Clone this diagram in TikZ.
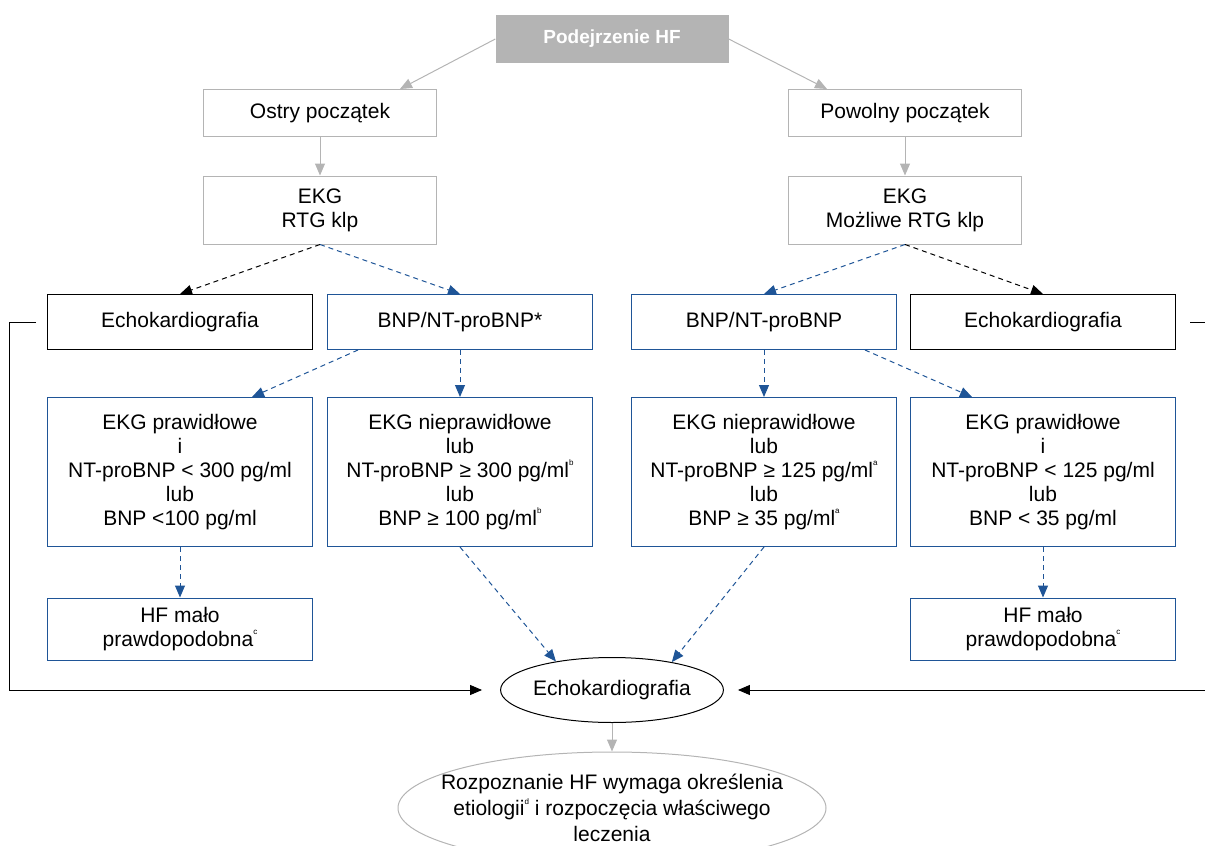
\documentclass[tikz,border=0pt]{standalone}
\usepackage{fontspec}
\setmainfont{Liberation Sans}
\usetikzlibrary{arrows.meta,shapes.geometric}
\definecolor{hfblue}{HTML}{1F5597}
\definecolor{hfgray}{HTML}{B4B4B4}
\newcommand{\fnmark}[1]{\raisebox{0.55em}{\fontsize{8}{8}\selectfont #1}}
\begin{document}
\begin{tikzpicture}[x=1pt,y=-1pt,font=\fontsize{21}{24}\selectfont,
  box/.style={draw,line width=1pt,align=center,inner sep=0pt,minimum width=265pt,minimum height=55pt},
  greybox/.style={box,draw=hfgray,minimum width=233pt,minimum height=47pt},
  bluebox/.style={box,draw=hfblue},
  blackbox/.style={box,draw=black},
  tip/.style={-{Triangle[length=12pt,width=10pt]}},
  garrow/.style={tip,hfgray,line width=1pt},
  barrow/.style={tip,hfblue,line width=1pt,dash pattern=on 5pt off 4pt},
  karrow/.style={tip,black,line width=1pt,dash pattern=on 5pt off 4pt},
  link/.style={black,line width=1pt}]
\useasboundingbox (0,0) rectangle (1205,846);
\node[fill=hfgray,minimum width=233pt,minimum height=48pt,inner sep=0pt,text=white,font=\bfseries\fontsize{19}{21}\selectfont] (susp) at (612,39) {Podejrzenie HF};
\node[greybox] (acute) at (320,113) {Ostry początek};
\node[greybox] (slow) at (905,113) {Powolny początek};
\node[greybox,minimum height=68pt] (ekgA) at (320,210) {EKG\\RTG klp};
\node[greybox,minimum height=68pt] (ekgS) at (905,210) {EKG\\Możliwe RTG klp};
\node[blackbox] (echoL) at (180,322) {Echokardiografia};
\node[bluebox] (bnpL) at (460,322) {BNP/NT-proBNP*};
\node[bluebox] (bnpR) at (764,322) {BNP/NT-proBNP};
\node[blackbox] (echoR) at (1043,322) {Echokardiografia};
\node[bluebox,minimum height=149pt] (normL) at (180,472) {EKG prawidłowe\\i\\NT-proBNP < 300 pg/ml\\lub\\BNP <100 pg/ml};
\node[bluebox,minimum height=149pt] (abnL) at (460,472) {EKG nieprawidłowe\\lub\\NT-proBNP ≥ 300 pg/ml\fnmark{b}\\lub\\BNP ≥ 100 pg/ml\fnmark{b}};
\node[bluebox,minimum height=149pt] (abnR) at (764,472) {EKG nieprawidłowe\\lub\\NT-proBNP ≥ 125 pg/ml\fnmark{a}\\lub\\BNP ≥ 35 pg/ml\fnmark{a}};
\node[bluebox,minimum height=149pt] (normR) at (1043,472) {EKG prawidłowe\\i\\NT-proBNP < 125 pg/ml\\lub\\BNP < 35 pg/ml};
\node[bluebox,minimum height=62pt] (unlL) at (180,629) {HF mało\\prawdopodobna\fnmark{c}};
\node[bluebox,minimum height=62pt] (unlR) at (1043,629) {HF mało\\prawdopodobna\fnmark{c}};
\node[ellipse,draw,line width=1pt,inner sep=0pt,minimum width=222pt,minimum height=65pt] (echoC) at (612,690) {Echokardiografia};
\node[ellipse,draw=hfgray,line width=1pt,inner xsep=-20pt,inner ysep=-6pt,minimum width=428pt,minimum height=112pt,align=center,font=\fontsize{21}{26}\selectfont] (diag) at (612,808) {Rozpoznanie HF wymaga określenia\\etiologii\fnmark{d} i rozpoczęcia właściwego\\leczenia};
\draw[garrow] (susp.west) -- ([xshift=-37pt]acute.north east);
\draw[garrow] (susp.east) -- ([xshift=39pt]slow.north west);
\draw[garrow] (acute) -- (ekgA);
\draw[garrow] (slow) -- (ekgS);
\draw[karrow] (ekgA.south) -- (echoL.north);
\draw[barrow] (ekgA.south) -- (bnpL.north);
\draw[barrow] (ekgS.south) -- (bnpR.north);
\draw[karrow] (ekgS.south) -- (echoR.north);
\draw[barrow] ([xshift=-102pt]bnpL.south) -- ([xshift=72pt]normL.north);
\draw[barrow] (bnpL) -- (abnL);
\draw[barrow] (bnpR) -- (abnR);
\draw[barrow] ([xshift=101pt]bnpR.south) -- ([xshift=-71pt]normR.north);
\draw[barrow] (normL) -- (unlL);
\draw[barrow] (normR) -- (unlR);
\draw[barrow] (abnL.south) -- (echoC.153);
\draw[barrow] (abnR.south) -- (echoC.25);
\draw[link,tip] ([xshift=-11pt]echoL.west) -- ++(-27,0) |- ([xshift=-18pt]echoC.west);
\draw[link,tip] ([xshift=14pt]echoR.east) -- ++(17,0) |- ([xshift=14pt]echoC.east);
\draw[garrow] (echoC) -- (diag);
\end{tikzpicture}
\end{document}
